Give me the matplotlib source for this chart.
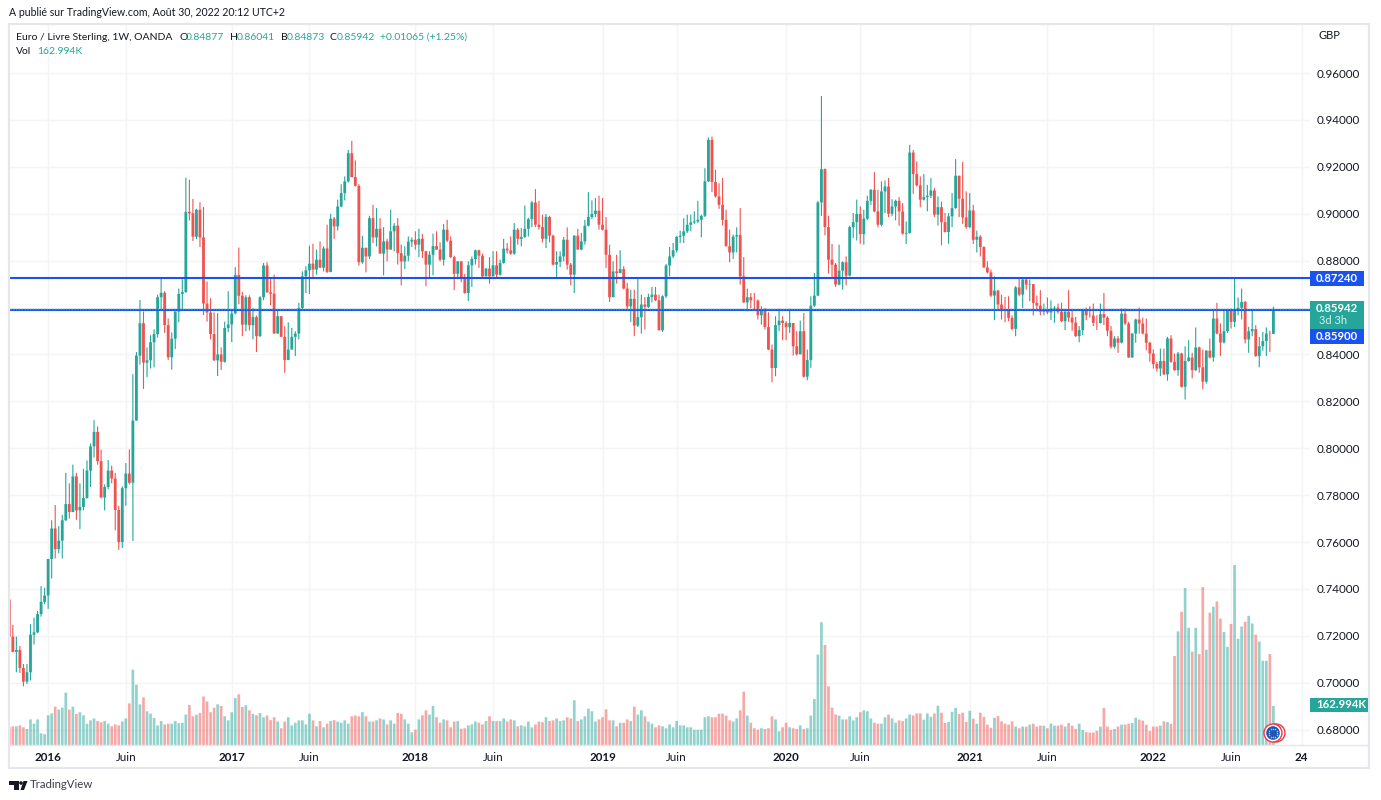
import numpy as np
import matplotlib
matplotlib.use('Agg')
import matplotlib.pyplot as plt
from matplotlib.patches import Rectangle, Circle, Polygon

plt.rcParams['font.family'] = ['Lato', 'DejaVu Sans']

# weekly EUR/GBP candles
first_open = 0.7355
closes = [
    .7197,.7132,.7140,.7063,.7005,.7045,.7205,.7215,.7293,.7345,
    .7372,.7528,.7658,.7570,.7606,.7693,.7762,.7728,.7880,.7735,
    .7750,.7788,.7905,.8008,.8070,.7945,.7790,.7835,.7905,.7871,
    .7737,.7600,.7830,.7892,.7853,.8118,.8395,.8533,.8365,.8375,
    .8452,.8487,.8644,.8663,.8525,.8388,.8467,.8583,.8658,.8666,
    .9008,.9002,.8902,.9017,.8899,.8617,.8579,.8487,.8375,.8400,
    .8369,.8513,.8528,.8575,.8739,.8650,.8527,.8644,.8525,.8559,
    .8478,.8644,.8779,.8665,.8659,.8489,.8563,.8475,.8376,.8421,
    .8475,.8489,.8598,.8733,.8759,.8787,.8762,.8804,.8770,.8852,
    .8752,.8979,.8946,.9031,.9088,.9138,.9258,.9156,.9119,.8793,
    .8855,.8818,.8981,.8899,.8936,.8830,.8882,.8847,.8925,.8949,
    .8832,.8797,.8821,.8881,.8889,.8868,.8893,.8840,.8783,.8825,
    .8862,.8847,.8804,.8932,.8885,.8815,.8744,.8797,.8722,.8662,
    .8780,.8807,.8844,.8821,.8733,.8766,.8733,.8780,.8740,.8790,
    .8851,.8844,.8830,.8932,.8893,.8901,.8936,.8977,.9048,.8953,
    .8943,.8893,.8986,.8906,.8783,.8794,.8818,.8889,.8783,.8740,
    .8906,.8847,.8882,.8949,.8986,.8999,.9013,.8953,.8932,.8825,
    .8644,.8754,.8747,.8764,.8681,.8605,.8637,.8523,.8559,.8613,
    .8603,.8645,.8655,.8631,.8503,.8648,.8779,.8818,.8844,.8901,
    .8906,.8925,.8953,.8963,.8967,.8974,.8991,.9138,.9315,.9135,
    .9074,.9038,.8974,.8861,.8835,.8903,.8909,.8733,.8622,.8644,
    .8631,.8630,.8567,.8591,.8517,.8421,.8342,.8525,.8544,.8534,
    .8516,.8534,.8435,.8401,.8499,.8305,.8376,.8608,.8651,.9048,
    .9190,.8943,.8804,.8783,.8698,.8757,.8793,.8736,.8943,.8964,
    .8999,.8913,.8979,.9055,.9102,.9010,.8953,.9095,.9116,.9000,
    .9031,.9055,.9010,.8915,.8918,.9261,.9169,.9121,.9060,.9071,
    .9077,.9099,.8996,.9028,.8964,.8922,.8989,.9024,.9162,.9064,
    .8984,.8943,.9014,.8889,.8902,.8858,.8771,.8750,.8651,.8672,
    .8613,.8588,.8587,.8556,.8509,.8686,.8655,.8719,.8698,.8700,
    .8620,.8608,.8582,.8589,.8579,.8596,.8599,.8582,.8542,.8582,
    .8557,.8536,.8478,.8504,.8591,.8567,.8566,.8535,.8534,.8572,
    .8557,.8501,.8433,.8468,.8450,.8574,.8532,.8387,.8489,.8549,
    .8532,.8489,.8450,.8404,.8359,.8340,.8372,.8315,.8468,.8369,
    .8333,.8404,.8262,.8372,.8387,.8333,.8430,.8345,.8284,.8416,
    .8387,.8553,.8489,.8451,.8499,.8591,.8539,.8591,.8599,.8624,
    .8464,.8499,.8508,.8393,.8435,.8457,.8489,.84877,.85942,
]
highs = [
    .7378,.7247,.7197,.7157,.7080,.7080,.7250,.7278,.7307,.7412,
    .7405,.7528,.7693,.7758,.7668,.7716,.7895,.7850,.7930,.7895,
    .7850,.7912,.7948,.8020,.8120,.8093,.7994,.7846,.7950,.7926,
    .7895,.7755,.7838,.7937,.7995,.8316,.8410,.8632,.8583,.8430,
    .8482,.8507,.8655,.8724,.8670,.8553,.8494,.8583,.8681,.8720,
    .9154,.9145,.9063,.9021,.9049,.9029,.8711,.8640,.8579,.8576,
    .8430,.8540,.8670,.8586,.8772,.8856,.8666,.8652,.8652,.8598,
    .8566,.8648,.8790,.8793,.8729,.8740,.8591,.8563,.8520,.8537,
    .8513,.8499,.8620,.8754,.8776,.8864,.8872,.8847,.8882,.8861,
    .8953,.9000,.8986,.9060,.9126,.9159,.9272,.9311,.9227,.9126,
    .8906,.8855,.8991,.9038,.9024,.8981,.8943,.8893,.9017,.8960,
    .8981,.8868,.8861,.8903,.8899,.8925,.8936,.8913,.8840,.8840,
    .8915,.8925,.8878,.8956,.8974,.8903,.8821,.8797,.8797,.8744,
    .8797,.8818,.8847,.8847,.8830,.8769,.8815,.8840,.8840,.8804,
    .8893,.8875,.8903,.8960,.8939,.8939,.9035,.8982,.9055,.9105,
    .9055,.8996,.8999,.8991,.8911,.8840,.8840,.8901,.8942,.8790,
    .8909,.8935,.8918,.8974,.9092,.9057,.9067,.9077,.9067,.8986,
    .8868,.8797,.8825,.8844,.8776,.8705,.8676,.8676,.8726,.8655,
    .8644,.8659,.8688,.8688,.8655,.8652,.8786,.8858,.8875,.8906,
    .8928,.8981,.8996,.8996,.9010,.9055,.8996,.9194,.9325,.9329,
    .9187,.9130,.9152,.9017,.8932,.8911,.8942,.9024,.8815,.8681,
    .8662,.8662,.8634,.8605,.8598,.8580,.8442,.8563,.8595,.8563,
    .8542,.8595,.8534,.8499,.8544,.8577,.8421,.8648,.8747,.9055,
    .9502,.9193,.8991,.8871,.8790,.8868,.8797,.8818,.8949,.9003,
    .9060,.9031,.9017,.9077,.9105,.9177,.9102,.9138,.9142,.9152,
    .9062,.9060,.9071,.9045,.8967,.9294,.9272,.9223,.9159,.9169,
    .9123,.9152,.9109,.9074,.9052,.9003,.9003,.9088,.9233,.9162,
    .9221,.9095,.9088,.9038,.8928,.8908,.8861,.8797,.8762,.8733,
    .8676,.8655,.8645,.8648,.8566,.8691,.8726,.8730,.8726,.8719,
    .8700,.8651,.8674,.8617,.8643,.8631,.8606,.8617,.8621,.8589,
    .8674,.8589,.8560,.8521,.8594,.8600,.8606,.8617,.8567,.8617,
    .8662,.8563,.8521,.8478,.8478,.8596,.8596,.8539,.8492,.8552,
    .8600,.8557,.8553,.8454,.8421,.8369,.8425,.8425,.8475,.8482,
    .8404,.8411,.8407,.8435,.8461,.8407,.8515,.8433,.8421,.8418,
    .8468,.8591,.8620,.8532,.8591,.8594,.8596,.8723,.8643,.8681,
    .8628,.8518,.8591,.8525,.8475,.8496,.8515,.8501,.86041,
]
lows = [
    .7172,.7130,.7045,.7042,.6985,.6995,.7010,.7163,.7212,.7282,
    .7335,.7315,.7445,.7530,.7552,.7530,.7690,.7700,.7728,.7695,
    .7655,.7735,.7785,.7835,.7960,.7930,.7787,.7735,.7825,.7850,
    .7650,.7567,.7575,.7755,.7846,.7605,.8118,.8357,.8253,.8303,
    .8340,.8345,.8472,.8594,.8492,.8377,.8335,.8423,.8537,.8594,
    .8663,.8971,.8884,.8892,.8858,.8568,.8540,.8464,.8372,.8308,
    .8334,.8365,.8495,.8453,.8571,.8614,.8478,.8499,.8502,.8464,
    .8410,.8475,.8631,.8662,.8610,.8489,.8489,.8475,.8322,.8376,
    .8421,.8393,.8464,.8591,.8662,.8658,.8726,.8740,.8769,.8754,
    .8747,.8750,.8893,.8928,.9028,.9057,.9133,.9156,.9116,.8779,
    .8787,.8750,.8807,.8875,.8861,.8830,.8737,.8797,.8847,.8840,
    .8783,.8695,.8764,.8797,.8858,.8847,.8815,.8811,.8691,.8723,
    .8737,.8847,.8797,.8779,.8879,.8811,.8674,.8722,.8708,.8659,
    .8628,.8688,.8783,.8769,.8726,.8733,.8702,.8733,.8722,.8736,
    .8787,.8830,.8825,.8825,.8868,.8861,.8896,.8903,.8943,.8943,
    .8932,.8878,.8854,.8878,.8779,.8730,.8773,.8797,.8762,.8695,
    .8662,.8847,.8844,.8868,.8946,.8977,.8986,.8932,.8929,.8769,
    .8624,.8644,.8702,.8747,.8677,.8591,.8539,.8478,.8517,.8489,
    .8506,.8598,.8622,.8627,.8502,.8496,.8641,.8733,.8811,.8835,
    .8875,.8875,.8918,.8925,.8957,.8960,.8899,.8986,.9135,.9092,
    .9069,.9021,.8950,.8861,.8793,.8807,.8835,.8698,.8620,.8584,
    .8598,.8591,.8549,.8527,.8506,.8418,.8282,.8307,.8499,.8461,
    .8461,.8492,.8395,.8395,.8400,.8302,.8290,.8343,.8603,.8648,
    .8991,.8908,.8745,.8726,.8688,.8695,.8676,.8695,.8733,.8896,
    .8886,.8872,.8868,.8972,.9038,.9006,.8942,.8946,.9003,.8986,
    .8989,.8972,.8949,.8911,.8871,.8915,.9085,.9116,.9028,.9057,
    .9010,.9067,.8986,.8950,.8865,.8920,.8872,.8943,.9021,.8986,
    .8957,.8936,.8939,.8871,.8835,.8818,.8769,.8745,.8645,.8546,
    .8591,.8549,.8537,.8542,.8503,.8478,.8648,.8598,.8676,.8627,
    .8566,.8584,.8567,.8567,.8572,.8546,.8535,.8574,.8538,.8504,
    .8539,.8501,.8475,.8452,.8482,.8546,.8557,.8521,.8504,.8532,
    .8525,.8478,.8425,.8425,.8407,.8447,.8525,.8386,.8386,.8450,
    .8489,.8486,.8418,.8369,.8340,.8326,.8308,.8312,.8288,.8364,
    .8330,.8309,.8259,.8208,.8369,.8298,.8330,.8322,.8252,.8276,
    .8383,.8369,.8486,.8394,.8447,.8492,.8511,.8518,.8567,.8549,
    .8447,.8407,.8478,.8390,.8345,.8416,.8393,.8411,.84873,
]
# volume in thousands
volumes = [
    75,78,78,82,74,67,107,89,107,49,45,124,132,160,148,156,219,148,160,130,
    137,124,89,103,111,100,95,100,89,78,86,82,98,111,174,315,252,170,199,141,
    131,113,82,100,86,89,89,100,91,93,127,167,120,127,134,203,182,137,156,170,
    163,120,103,137,196,212,159,166,145,130,124,134,116,123,104,116,98,70,98,116,
    82,93,103,103,86,131,103,78,100,74,89,100,104,98,93,103,89,120,123,120,
    137,120,98,98,103,111,107,86,103,89,134,131,107,89,53,64,107,124,145,127,
    163,116,93,107,103,74,98,100,
    68,70,82,86,98,93,86,100,120,100,100,100,111,98,107,103,78,82,78,98,
    74,86,98,95,116,100,103,111,100,103,116,111,187,100,107,120,152,141,98,107,
    116,149,103,103,78,93,93,107,100,160,127,145,120,98,89,74,82,78,70,86,
    74,100,82,82,74,74,64,64,64,116,120,116,116,131,131,123,103,98,111,145,
    223,123,93,70,64,70,67,70,120,107,57,74,93,74,70,67,82,67,70,123,
    192,378,513,418,245,156,127,123,107,107,120,103,116,137,145,141,111,93,89,89,
    116,127,111,93,103,100,111,127,123,132,
    132,106,132,118,132,164,135,92,96,139,155,130,135,96,143,110,89,135,118,85,
    72,114,121,99,89,85,99,77,70,77,77,85,89,77,81,81,70,89,81,81,
    85,77,92,81,67,89,63,54,52,52,59,77,155,77,63,67,77,85,85,89,
    92,114,106,102,85,59,77,77,81,99,96,89,372,475,557,656,490,390,490,380,
    660,398,553,578,600,528,472,410,506,752,444,495,515,540,508,461,432,352,352,380,
    163,
]
price_ticks = [.68, .70, .72, .74, .76, .78, .80, .82, .84, .86, .88, .90, .92, .94, .96]
# week number of each axis label
date_ticks = [12, 34, 64, 86, 116, 138, 169, 190, 221, 242, 273, 295, 325, 347, 367]
date_labels = ['2016', 'Juin', '2017', 'Juin', '2018', 'Juin', '2019', 'Juin', '2020', 'Juin',
               '2021', 'Juin', '2022', 'Juin', '24']
h_levels = [.8724, .8590]
last_price = .85942

assert len(closes) == len(highs) == len(lows) == len(volumes) == 359

green = '#26a69a'
red = '#ef5350'
blue = '#1a52f0'
grid_c = '#f3f4f6'
border_c = '#e6e7ec'
text_c = '#131722'

closes = np.array(closes)
highs = np.array(highs)
lows = np.array(lows)
opens = np.r_[first_open, closes[:-1]]
weeks = np.arange(1, len(closes) + 1)
up = closes >= opens
cols = np.where(up, green, red)

W, H = 1381, 800
L, R, T, B = 9.5, 1310, 24, 745
fig = plt.figure(figsize=(W / 100, H / 100), dpi=100, facecolor='white')
pos = [L / W, 1 - B / H, (R - L) / W, (B - T) / H]

# grid goes on its own axes so it stays behind the volume bars
ax_grid = fig.add_axes(pos, zorder=0)
ax_vol = fig.add_axes(pos, zorder=1)
ax = fig.add_axes(pos, zorder=2)
ax.patch.set_alpha(0)

# x: 3.531 px a week, week 1 at px 9.3
xlim = (1 + (L - 9.3) / 3.531, 1 + (R - 9.3) / 3.531)
ylim = (.68 - (B - 729.7) / 2345, .96 + (73 - T) / 2345)
ax.set_xlim(xlim)
ax_vol.set_xlim(xlim)
ax_grid.set_xlim(xlim)
ax.set_ylim(ylim)
ax_grid.set_ylim(ylim)
ax_vol.set_ylim(0, (B - T) / .2393)

ax_grid.set_xticks(date_ticks)
ax_grid.set_yticks(price_ticks)
ax_grid.grid(True, color=grid_c, linewidth=1)
ax_grid.tick_params(length=0, labelbottom=False, labelleft=False)
for s in ax_grid.spines.values():
    s.set_visible(False)

vol_bars = ax_vol.bar(weeks, volumes, width=.76, color=cols, alpha=.5, linewidth=0)
for b in vol_bars:
    b.set_snap(False)
ax_vol.axis('off')

wicks = ax.vlines(weeks, lows, highs, colors=cols, linewidth=.8)
wicks.set_snap(False)
bodies = ax.bar(weeks, np.abs(closes - opens), bottom=np.minimum(opens, closes), width=.8,
                color=cols, linewidth=0)
for b in bodies:
    b.set_snap(False)
for lev in h_levels:
    ax.axhline(lev, color=blue, linewidth=1.5)
ax.axhline(last_price, color=green, linewidth=1, linestyle=(0, (1, 1)))

ax.set_yticks(price_ticks)
ax.set_yticklabels(['%.5f' % p for p in price_ticks])
ax.yaxis.tick_right()
ax.set_xticks(date_ticks)
ax.set_xticklabels(date_labels)
ax.tick_params(axis='both', length=0, labelsize=8.4, labelcolor=text_c)
ax.tick_params(axis='y', pad=5)
ax.tick_params(axis='x', pad=5)
for lab in ax.get_xticklabels():
    if lab.get_text()[0] == '2':
        lab.set_fontweight('bold')
for s in ax.spines.values():
    s.set_visible(False)

# overlay in pixel coordinates for frame, labels and logos
px = fig.add_axes([0, 0, 1, 1], zorder=5)
px.set_xlim(0, W)
px.set_ylim(H, 0)
px.axis('off')
px.patch.set_alpha(0)

px.add_patch(Rectangle((9, 24), 1360, 744, fill=False, edgecolor=border_c, linewidth=1.6))
px.plot([9, 1369], [745, 745], color=border_c, linewidth=1)


def label(x, y, s, c=text_c, size=7.5, **kw):
    kw.setdefault('va', 'center')
    px.text(x, y, s, color=c, fontsize=size, **kw)


def price_box(y0, y1, c, right=1364):
    px.add_patch(Rectangle((1310, y0), right - 1310, y1 - y0, facecolor=c, edgecolor='none'))


price_box(271, 286, blue)
label(1337, 278.5, '0.87240', 'white', 8.2, ha='center', fontweight='bold')
price_box(301, 329, green)
label(1337, 308.5, '0.85942', 'white', 8.2, ha='center', fontweight='bold')
label(1333, 321, '3d 3h', '#d5efeb', 8, ha='center')
price_box(329, 344, blue)
label(1337, 336.5, '0.85900', 'white', 8.2, ha='center', fontweight='bold')
price_box(698, 712, green, right=1368)
label(1341, 705, '162.994K', 'white', 8.2, ha='center', fontweight='bold')
label(1319, 35.5, 'GBP', size=8)

label(9, 12.5, 'A publié sur TradingView.com, Août 30, 2022 20:12 UTC+2', size=7.6)
label(16, 37, 'Euro / Livre Sterling, 1W, OANDA')
for x, s in [(180, 'O'), (230, 'H'), (281, 'B'), (330, 'C')]:
    label(x, 37, s)
for x, s in [(186, '0.84877'), (237, '0.86041'), (287, '0.84873'), (336.5, '0.85942'),
             (380, '+0.01065 (+1.25%)')]:
    label(x, 37, s, green)
label(16, 52, 'Vol')
label(37, 52, '162.994K', green)

# TradingView mark
px.add_patch(Polygon([(9, 781), (19, 781), (19, 790), (14, 790), (14, 785), (9, 785)],
                     facecolor='#131722', edgecolor='none'))
px.add_patch(Circle((21, 783), 1.8, facecolor='#131722', edgecolor='none'))
px.add_patch(Polygon([(20.5, 790), (23.5, 781), (27.5, 781), (24, 790)],
                     facecolor='#131722', edgecolor='none'))
label(30, 785, 'TradingView', '#3b3f4a', 8.2)

# EU flag marker on the last bar
px.add_patch(Circle((1276, 733), 9, facecolor='white', edgecolor='#f23645', linewidth=1))
px.add_patch(Circle((1273, 733), 9, facecolor='white', edgecolor='#f23645', linewidth=1))
px.add_patch(Circle((1273, 733), 6.8, facecolor='#1c57b5', edgecolor='none'))
ang = np.arange(12) * np.pi / 6
px.scatter(1273 + 4.3 * np.cos(ang), 733 + 4.3 * np.sin(ang), s=1.2, color='#f6c936', linewidths=0)

fig.savefig('out.png', dpi=100, facecolor='white')
